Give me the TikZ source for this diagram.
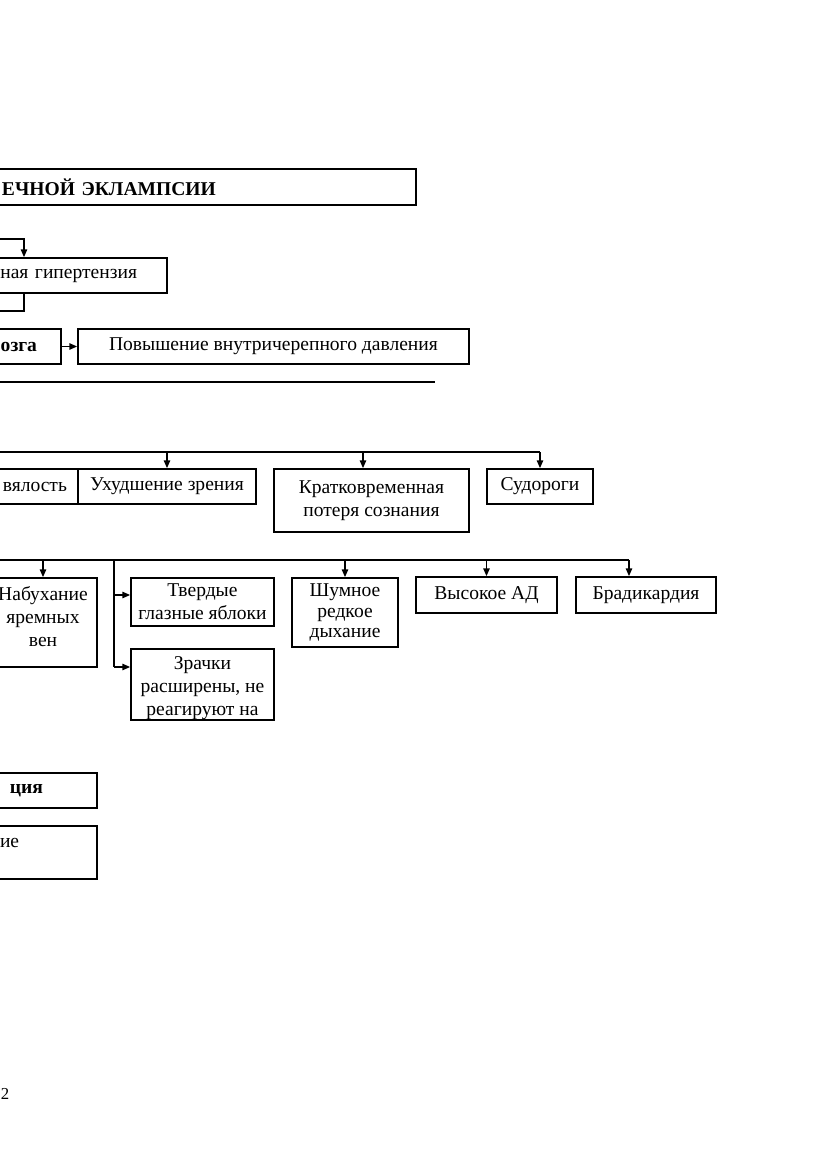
\documentclass[tikz,border=0pt]{standalone}
\usepackage{fontspec}
\setmainfont{Liberation Serif}
\usetikzlibrary{arrows.meta}
\newcommand\bx[7][]{\node[box,minimum width={((#5)-(#3))*0.716pt},minimum height={((#6)-(#4))*0.716pt},#1] (#2) at ({((#3)+(#5))/2},{((#4)+(#6))/2}) {#7};}
\begin{document}
\begin{tikzpicture}[x=0.716pt,y=-0.716pt,
  box/.style={draw,line width=1.2pt,align=center,inner sep=0pt,font=\fontsize{14pt}{16.5pt}\selectfont},
  bbox/.style={box,font=\fontsize{14pt}{16.5pt}\selectfont\bfseries},
  arr/.style={line width=1pt,-{Triangle[length=5.5pt,width=4.5pt]}},
  ln/.style={line width=1pt}]
\useasboundingbox (0,0) rectangle (831,1174);
% boxes
\bx[bbox,align=left,text width=290.7pt,inner xsep=5.73pt]{title}{-6}{169}{416}{205}{ЕЧНОЙ ЭКЛАМПСИИ}
\bx[align=right,text width=119.6pt,inner xsep=20.5pt]{hyp}{-60}{258}{167}{293}{ьная гипертензия}
\bx[bbox,align=right,text width=52.3pt,inner xsep=17.2pt]{brain}{-60}{329}{61}{364}{озга}
\bx{icp}{78}{329}{469}{364}{Повышение внутричерепного давления}
\bx[align=right,text width=83pt,inner xsep=7.9pt]{weak}{-60}{469}{78}{504}{вялость}
\bx{vision}{78}{469}{256}{504}{Ухудшение зрения}
\bx{loss}{274}{469}{469}{532}{Кратковременная\\потеря сознания}
\bx{seiz}{487}{469}{593}{504}{Судороги}
\bx{veins}{-11}{578}{97}{667}{\raisebox{2.5pt}[\height][\depth]{\begin{tabular}{@{}c@{}}Набухание\\яремных\\вен\end{tabular}}}
\bx{eyes}{131}{578}{274}{626}{Твердые\\глазные яблоки}
\bx{pupils}{131}{649}{274}{720}{\raisebox{-2.3pt}[\height][\depth]{\begin{tabular}{@{}c@{}}Зрачки\\расширены, не\\реагируют на\end{tabular}}}
\bx{breath}{292}{578}{398}{647}{Шумное\\[-1.5pt]редкое\\[-1.5pt]дыхание}
\bx{bp}{416}{577}{557}{613}{Высокое АД}
\bx{brady}{576}{577}{716}{613}{Брадикардия}
\bx[bbox,align=right,text width=49.4pt,inner xsep=38.7pt]{cx}{-80}{773}{97}{808}{ция}
\bx[align=left,text width=63.7pt,inner xsep=5.73pt]{tr}{-8}{826}{97}{879}{\raisebox{7pt}[\height][\depth]{ие}}
\node[font=\fontsize{12pt}{14pt}\selectfont,inner sep=0pt] (pg) at (5,1094) {2};
% connectors
\coordinate (a1) at (-5,239); \coordinate (a2) at (24,239);
\draw[arr] (a1) -- (a2) -- (a2 |- hyp.north);
\coordinate (b1) at (24,311); \coordinate (b2) at (-5,311);
\draw[ln] (b1 |- hyp.south) -- (b1) -- (b2);
\draw[arr] (brain.east) -- (icp.west);
\coordinate (h1) at (-5,382); \coordinate (h2) at (435,382);
\draw[ln] (h1) -- (h2);
\coordinate (r1) at (-5,452); \coordinate (r2) at (540,452); \coordinate (r3) at (363,452);
\draw[ln] (r1) -- (r2);
\draw[arr] (vision.north |- r1) -- (vision.north);
\draw[arr] (r3) -- (r3 |- loss.north);
\draw[arr] (r2) -- (r2 |- seiz.north);
\coordinate (s1) at (-5,560); \coordinate (s2) at (629,560);
\draw[ln] (s1) -- (s2);
\draw[arr] (veins.north |- s1) -- (veins.north);
\draw[arr] (breath.north |- s1) -- (breath.north);
\draw[arr] (bp.north |- s1) -- (bp.north);
\draw[arr] (s2) -- (s2 |- brady.north);
\coordinate (v1) at (114,560); \coordinate (v2) at (114,595); \coordinate (v3) at (114,667);
\draw[ln] (v1) -- (v3);
\draw[arr] (v2) -- (v2 -| eyes.west);
\draw[arr] (v3) -- (v3 -| pupils.west);
\end{tikzpicture}
\end{document}
